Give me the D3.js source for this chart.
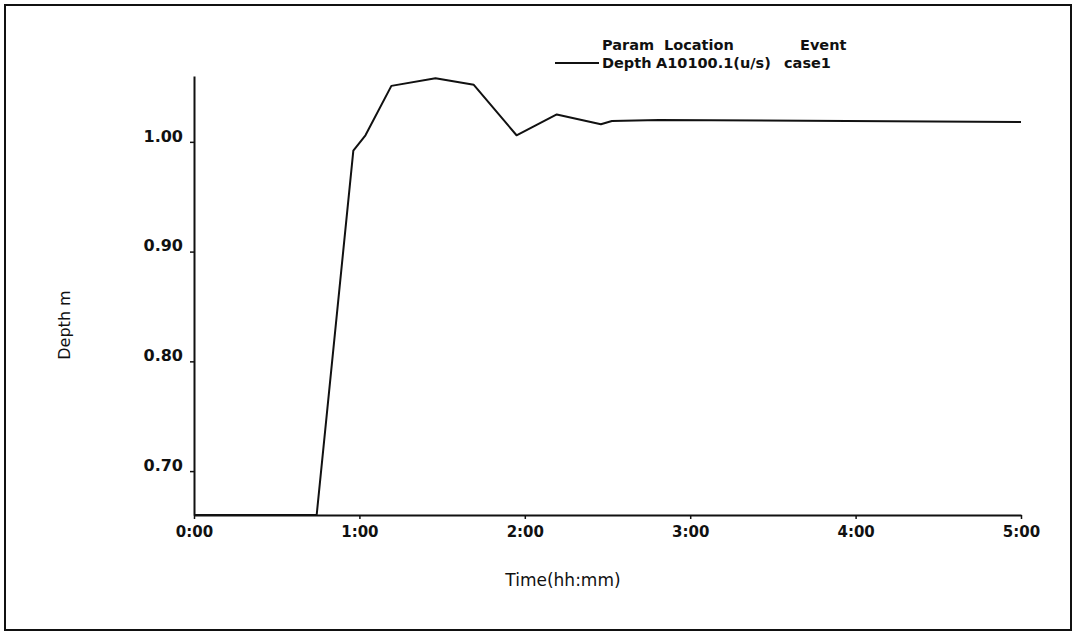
<!doctype html>
<html lang="en">
  <head>
    <meta charset="UTF-8" />
    <title>Depth A10100.1(u/s) case1</title>
    <style>
      body { margin: 0; background: #fff; }
      svg text { fill: #111; }
      .tick-lbl { font-family: "DejaVu Sans", sans-serif; font-weight: bold; font-size: 15px; }
      .legend { font-family: "DejaVu Sans", sans-serif; font-weight: bold; font-size: 14.5px; }
      .title { font-family: "DejaVu Sans", sans-serif; font-size: 17px; }
    </style>
  </head>
  <body>
    <div id="chart"></div>
    <script src="https://d3js.org/d3.v7.min.js"></script>
    <script>
      // values (time in minutes, depth in m)
      const times = [0, 44.5, 57.8, 62.2, 71.6, 87.6, 101.5, 117, 131.6, 147.6, 151.6, 168.7, 300];
      const depths = [0.66, 0.66, 0.992, 1.006, 1.051, 1.058, 1.052, 1.006, 1.025, 1.016, 1.019, 1.02, 1.018];
      const xTicks = [0, 60, 120, 180, 240, 300];
      const yTicks = [0.7, 0.8, 0.9, 1.0];
      const legendHead = ['Param', 'Location', 'Event'];
      const legendRow = ['Depth', 'A10100.1(u/s)', 'case1'];

      const width = 1077, height = 640;
      const svg = d3.select('#chart').append('svg').attr('width', width).attr('height', height);

      // frame around the whole figure
      svg.append('rect')
        .attr('x', 5).attr('y', 5).attr('width', 1066).attr('height', 625)
        .attr('fill', 'none').attr('stroke', '#111').attr('stroke-width', 2);

      const x = d3.scaleLinear().domain([0, 300]).range([194, 1021]);
      const y = d3.scaleLinear().domain([0.66, 1.06]).range([515, 76]);

      const fmtTime = (m) => Math.floor(m / 60) + ':' + d3.format('02')(m % 60);

      // y axis
      const gy = svg.append('g').attr('transform', 'translate(194,0)')
        .call(d3.axisLeft(y).tickValues(yTicks).tickSize(4).tickSizeOuter(0).tickPadding(7).tickFormat(d3.format('.2f')));
      gy.select('.domain').attr('stroke', '#111').attr('stroke-width', 2);
      gy.selectAll('.tick line').attr('stroke', '#111').attr('stroke-width', 1.5);
      gy.selectAll('.tick text').attr('class', 'tick-lbl').attr('dy', '-0.05em')
        .style('font-size', '16px');

      // x axis
      const gx = svg.append('g').attr('transform', 'translate(0,515)')
        .call(d3.axisBottom(x).tickValues(xTicks).tickSize(4).tickSizeOuter(0).tickFormat(fmtTime));
      gx.select('.domain').attr('stroke', '#111').attr('stroke-width', 2);
      gx.selectAll('.tick line').attr('stroke', '#111').attr('stroke-width', 1.5);
      gx.selectAll('.tick text').attr('class', 'tick-lbl').attr('y', 22).attr('dy', 0);

      // data line
      const data = times.map((t, i) => ({ t: t, v: depths[i] }));
      svg.append('path')
        .datum(data)
        .attr('fill', 'none')
        .attr('stroke', '#111')
        .attr('stroke-width', 2)
        .attr('stroke-linejoin', 'round')
        .attr('d', d3.line().x((d) => x(d.t)).y((d) => y(d.v)));

      // axis titles
      svg.append('text').attr('class', 'title')
        .attr('x', 563).attr('y', 586).attr('text-anchor', 'middle')
        .text('Time(hh:mm)');
      svg.append('text').attr('class', 'title')
        .attr('transform', 'translate(70,325) rotate(-90)').attr('text-anchor', 'middle')
        .style('font-size', '16px')
        .text('Depth m');

      // legend
      const headX = [602, 664, 800];
      const rowX = [602, 656, 784];
      svg.selectAll('.lh').data(legendHead).enter().append('text')
        .attr('class', 'legend').attr('x', (d, i) => headX[i]).attr('y', 50).text((d) => d);
      svg.selectAll('.lr').data(legendRow).enter().append('text')
        .attr('class', 'legend').attr('x', (d, i) => rowX[i]).attr('y', 68).text((d) => d);
      svg.append('line')
        .attr('x1', 555).attr('x2', 599).attr('y1', 63).attr('y2', 63)
        .attr('stroke', '#111').attr('stroke-width', 2);
    </script>
  </body>
</html>
